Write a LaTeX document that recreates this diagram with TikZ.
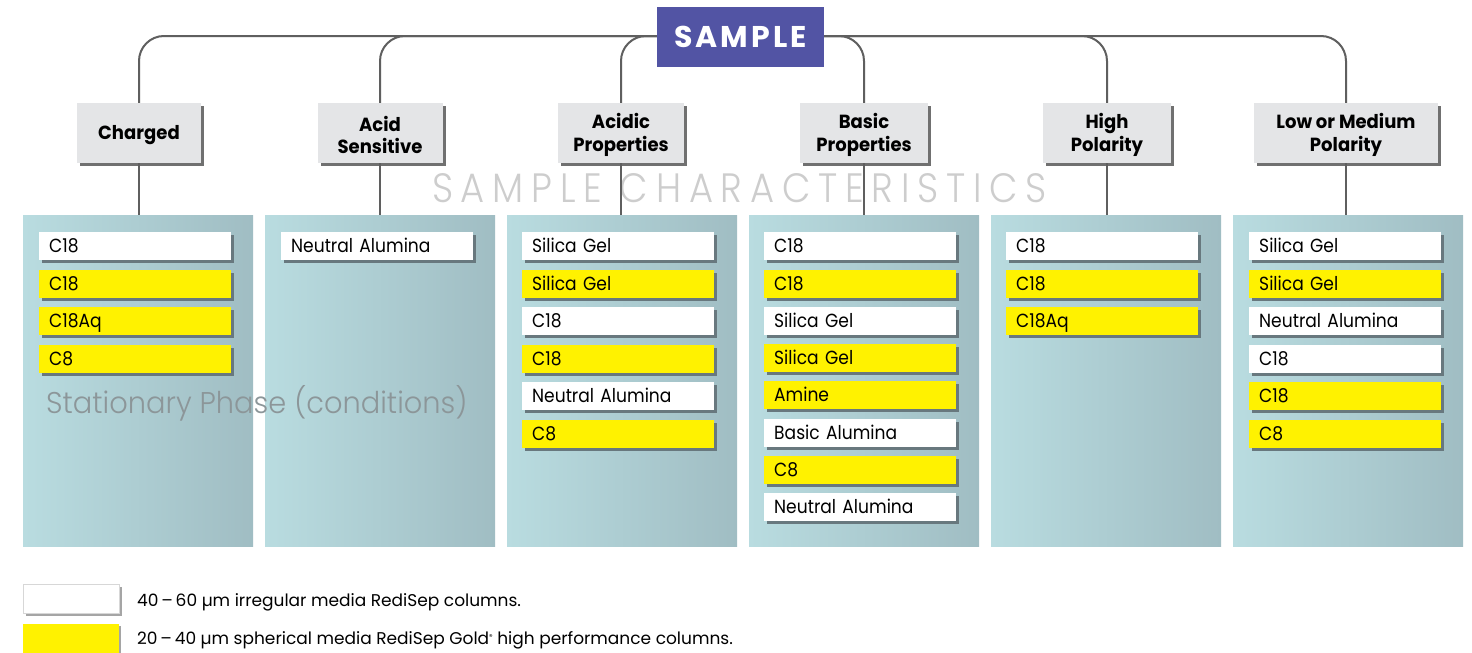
\documentclass[tikz,border=0pt]{standalone}
\usepackage{fontspec}
\setmainfont{Poppins}
\newfontfamily\itemf[FakeStretch=0.9]{Poppins}
\newfontfamily\legf{Poppins}
\newfontfamily\catf[FakeStretch=0.95]{Poppins}
\newfontfamily\headf[LetterSpace=10]{Poppins}
\newfontfamily\wmf[LetterSpace=19,FakeStretch=0.9]{Poppins-Light}
\newfontfamily\spf[FakeStretch=0.962]{Poppins-Light}
\usetikzlibrary{shadows,calc}
\definecolor{samplebg}{RGB}{82,84,164}
\definecolor{catbg}{RGB}{228,229,231}
\definecolor{catsh}{RGB}{112,112,112}
\definecolor{pleft}{RGB}{185,220,224}
\definecolor{pright}{RGB}{160,189,195}
\definecolor{itemsh}{RGB}{104,120,126}
\definecolor{gold}{RGB}{255,242,0}
\definecolor{linec}{RGB}{95,95,95}
\definecolor{wmc}{RGB}{205,205,205}
\definecolor{wmtwo}{RGB}{140,150,153}
\definecolor{legsh}{RGB}{165,165,165}
\definecolor{legbd}{RGB}{215,215,215}
\newcommand\catstrut{\rule{0pt}{19pt}}
\tikzset{
  conn/.style={draw=linec, line width=2pt},
  catbox/.style={fill=catbg, minimum height=60pt, inner sep=0pt, align=center,
    font=\catf\bfseries\fontsize{19}{22.5}\selectfont,
    general shadow={fill=catsh, shadow xshift=3pt, shadow yshift=-3pt}},
  panel/.style={anchor=north west, minimum width=230pt, minimum height=331pt, inner sep=0pt,
    left color=pleft, right color=pright},
  item/.style={anchor=north west, minimum width=192pt, minimum height=28pt, inner xsep=10pt,
    inner ysep=0pt, text width=172pt, align=left, text height=15pt, text depth=2pt,
    font=\itemf\fontsize{19}{22}\selectfont,
    general shadow={fill=itemsh, shadow xshift=3pt, shadow yshift=-3pt}},
  W/.style={item, fill=white},
  G/.style={item, fill=gold},
  legbox/.style={anchor=north west, minimum width=96pt, minimum height=29pt, inner sep=0pt,
    general shadow={fill=legsh, shadow xshift=2pt, shadow yshift=-2pt}},
  legtext/.style={anchor=base west, inner sep=0pt, font=\legf\fontsize{17}{20}\selectfont}
}
\begin{document}
\begin{tikzpicture}[x=1pt,y=-1pt]
\useasboundingbox (0,0) rectangle (1472,653);
\fill[white] (0,0) rectangle (1472,653);
% watermark
\node[text=wmc, font=\wmf\fontsize{41}{44}\selectfont, inner sep=0pt] (wm) at (739.5,188) {SAMPLE CHARACTERISTICS};
% panels
\node[panel] (p1) at (23,215) {};
\node[panel] (p2) at (265,215) {};
\node[panel] (p3) at (507,215) {};
\node[panel] (p4) at (749,215) {};
\node[panel] (p5) at (991,215) {};
\node[panel] (p6) at (1233,215) {};
% categories
\node[catbox, minimum width=124pt] (c1) at (139,133) {\catstrut Charged};
\node[catbox, minimum width=125pt] (c2) at (380,133) {\catstrut Acid\\Sensitive};
\node[catbox, minimum width=126pt] (c3) at (621,133) {\catstrut Acidic\\Properties};
\node[catbox, minimum width=128pt] (c4) at (864,133) {\catstrut Basic\\Properties};
\node[catbox, minimum width=128pt] (c5) at (1107,133) {\catstrut High\\Polarity};
\node[catbox, minimum width=184pt] (c6) at (1346,133) {\catstrut Low or Medium\\Polarity};
% connectors
\foreach \c in {c1,c2,c3,c4,c5,c6}
  \draw[conn, rounded corners=25pt] (740,36) -| (\c.north);
% sample
\node[fill=samplebg, minimum width=167pt, minimum height=60pt, inner sep=0pt, text=white,
  font=\headf\bfseries\fontsize{30}{33}\selectfont] (s) at (740.5,37) {SAMPLE};
\foreach \k in {1,...,6}
  \draw[conn] (c\k.south) -- (c\k.south |- p\k.north);
% items
\foreach \t/\s [count=\k] in {C18/W, C18/G, C18Aq/G, C8/G}
  \node[\s] (a\k) at (39,{232+37.5*(\k-1)}) {\t};
\node[W] (b1) at (281,232) {Neutral Alumina};
\foreach \t/\s [count=\k] in {Silica Gel/W, Silica Gel/G, C18/W, C18/G, Neutral Alumina/W, C8/G}
  \node[\s] (d\k) at (522,{232+37.5*(\k-1)}) {\t};
\foreach \t/\s [count=\k] in {C18/W, C18/G, Silica Gel/W, Silica Gel/G, Amine/G, Basic Alumina/W, C8/G, Neutral Alumina/W}
  \node[\s] (e\k) at (764,{232+37.3*(\k-1)}) {\t};
\foreach \t/\s [count=\k] in {C18/W, C18/G, C18Aq/G}
  \node[\s] (f\k) at (1006,{232+37.5*(\k-1)}) {\t};
\foreach \t/\s [count=\k] in {Silica Gel/W, Silica Gel/G, Neutral Alumina/W, C18/W, C18/G, C8/G}
  \node[\s] (g\k) at (1249,{232+37.5*(\k-1)}) {\t};
% stationary phase watermark
\node[anchor=base west, inner sep=0pt, text=wmtwo, font=\spf\fontsize{30}{33}\selectfont] (sp) at (46,413) {Stationary Phase (conditions)};
% legend
\node[legbox, fill=white, draw=legbd, line width=1pt] (lw) at (23,584) {};
\node[legbox, fill=gold] (ly) at (23,624) {};
\node[legtext] (lt1) at (137,606) {40\,–\,60 µm irregular media RediSep columns.};
\node[legtext] (lt2) at (137,644) {20\,–\,40 µm spherical media RediSep Gold\raisebox{5pt}{\fontsize{7}{7}\selectfont ®} high performance columns.};
\end{tikzpicture}
\end{document}
